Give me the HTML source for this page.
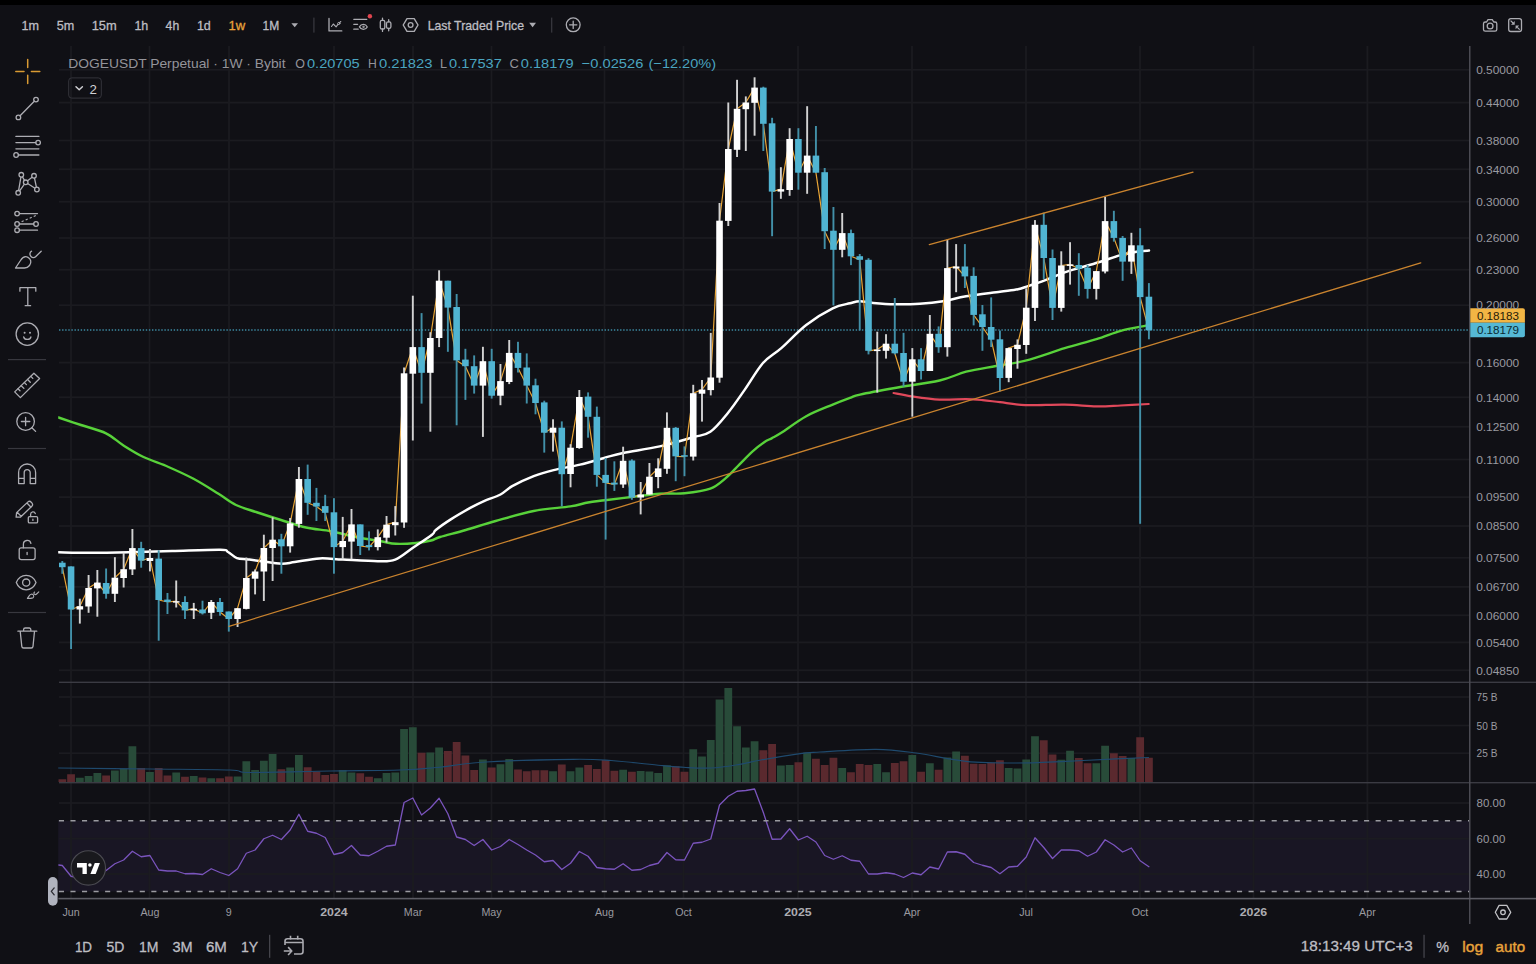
<!DOCTYPE html>
<html><head><meta charset="utf-8"><title>DOGEUSDT Perpetual 1W</title>
<style>
html,body{margin:0;padding:0;background:#101015;}
body{width:1536px;height:964px;overflow:hidden;position:relative;font-family:"Liberation Sans",sans-serif;}
svg{position:absolute;left:0;top:0;}
svg text{font-family:"Liberation Sans",sans-serif;}
#topstrip{position:absolute;left:0;top:0;width:1536px;height:4.6px;background:#000;}
</style></head><body>
<div id="topstrip"></div>
<svg id="chart" width="1536" height="964" viewBox="0 0 1536 964" style="position:absolute;left:0;top:0">
<defs><clipPath id="cp"><rect x="58.2" y="46" width="1411" height="852"/></clipPath></defs>
<rect x="58.2" y="820.7" width="1411" height="70.8" fill="#7e57c2" fill-opacity="0.09"/>
<rect x="59" y="68.9" width="1410.5" height="1.8" fill="#1b1b20"/>
<rect x="59" y="101.7" width="1410.5" height="1.8" fill="#1b1b20"/>
<rect x="59" y="139.6" width="1410.5" height="1.8" fill="#1b1b20"/>
<rect x="59" y="168.4" width="1410.5" height="1.8" fill="#1b1b20"/>
<rect x="59" y="200.8" width="1410.5" height="1.8" fill="#1b1b20"/>
<rect x="59" y="237.1" width="1410.5" height="1.8" fill="#1b1b20"/>
<rect x="59" y="268.8" width="1410.5" height="1.8" fill="#1b1b20"/>
<rect x="59" y="304.3" width="1410.5" height="1.8" fill="#1b1b20"/>
<rect x="59" y="361.7" width="1410.5" height="1.8" fill="#1b1b20"/>
<rect x="59" y="396.4" width="1410.5" height="1.8" fill="#1b1b20"/>
<rect x="59" y="425.8" width="1410.5" height="1.8" fill="#1b1b20"/>
<rect x="59" y="458.6" width="1410.5" height="1.8" fill="#1b1b20"/>
<rect x="59" y="496.2" width="1410.5" height="1.8" fill="#1b1b20"/>
<rect x="59" y="525.1" width="1410.5" height="1.8" fill="#1b1b20"/>
<rect x="59" y="556.9" width="1410.5" height="1.8" fill="#1b1b20"/>
<rect x="59" y="586" width="1410.5" height="1.8" fill="#1b1b20"/>
<rect x="59" y="614.4" width="1410.5" height="1.8" fill="#1b1b20"/>
<rect x="59" y="641.5" width="1410.5" height="1.8" fill="#1b1b20"/>
<rect x="59" y="669.4" width="1410.5" height="1.8" fill="#1b1b20"/>
<rect x="59" y="696.1" width="1410.5" height="1.8" fill="#1b1b20"/>
<rect x="59" y="724.6" width="1410.5" height="1.8" fill="#1b1b20"/>
<rect x="59" y="752.3" width="1410.5" height="1.8" fill="#1b1b20"/>
<rect x="59" y="802.1" width="1410.5" height="1.8" fill="#1b1b20"/>
<rect x="59" y="837.8" width="1410.5" height="1.8" fill="#1b1b20"/>
<rect x="59" y="873.1" width="1410.5" height="1.8" fill="#1b1b20"/>
<rect x="70.1" y="46" width="1.8" height="852" fill="#1b1b20"/>
<rect x="148.6" y="46" width="1.8" height="852" fill="#1b1b20"/>
<rect x="228.1" y="46" width="1.8" height="852" fill="#1b1b20"/>
<rect x="333.1" y="46" width="1.8" height="852" fill="#1b1b20"/>
<rect x="412.1" y="46" width="1.8" height="852" fill="#1b1b20"/>
<rect x="490.6" y="46" width="1.8" height="852" fill="#1b1b20"/>
<rect x="603.6" y="46" width="1.8" height="852" fill="#1b1b20"/>
<rect x="682.6" y="46" width="1.8" height="852" fill="#1b1b20"/>
<rect x="797.1" y="46" width="1.8" height="852" fill="#1b1b20"/>
<rect x="911.1" y="46" width="1.8" height="852" fill="#1b1b20"/>
<rect x="1025.1" y="46" width="1.8" height="852" fill="#1b1b20"/>
<rect x="1139.1" y="46" width="1.8" height="852" fill="#1b1b20"/>
<rect x="1252.6" y="46" width="1.8" height="852" fill="#1b1b20"/>
<rect x="1366.5" y="46" width="1.8" height="852" fill="#1b1b20"/>
<rect x="59" y="681.6" width="1477" height="1.4" fill="#3b3b43"/>
<rect x="59" y="782" width="1477" height="1.4" fill="#3b3b43"/>
<g clip-path="url(#cp)">
<rect x="58.4" y="779.25" width="7.8" height="2.75" fill="#5a292e"/>
<rect x="67.16" y="774.25" width="7.8" height="7.75" fill="#5a292e"/>
<rect x="75.93" y="777.75" width="7.8" height="4.25" fill="#284b39"/>
<rect x="84.69" y="776" width="7.8" height="6" fill="#284b39"/>
<rect x="93.45" y="773" width="7.8" height="9" fill="#284b39"/>
<rect x="102.21" y="775.5" width="7.8" height="6.5" fill="#5a292e"/>
<rect x="110.98" y="770.5" width="7.8" height="11.5" fill="#284b39"/>
<rect x="119.74" y="768.75" width="7.8" height="13.25" fill="#284b39"/>
<rect x="128.5" y="746.25" width="7.8" height="35.75" fill="#284b39"/>
<rect x="137.27" y="768" width="7.8" height="14" fill="#5a292e"/>
<rect x="146.03" y="772" width="7.8" height="10" fill="#284b39"/>
<rect x="154.79" y="768" width="7.8" height="14" fill="#5a292e"/>
<rect x="163.56" y="775.5" width="7.8" height="6.5" fill="#5a292e"/>
<rect x="172.32" y="772.5" width="7.8" height="9.5" fill="#284b39"/>
<rect x="181.08" y="776.75" width="7.8" height="5.25" fill="#5a292e"/>
<rect x="189.84" y="776" width="7.8" height="6" fill="#284b39"/>
<rect x="198.61" y="777.5" width="7.8" height="4.5" fill="#5a292e"/>
<rect x="207.37" y="778.25" width="7.8" height="3.75" fill="#284b39"/>
<rect x="216.13" y="778.25" width="7.8" height="3.75" fill="#5a292e"/>
<rect x="224.9" y="776.5" width="7.8" height="5.5" fill="#5a292e"/>
<rect x="233.66" y="776.5" width="7.8" height="5.5" fill="#284b39"/>
<rect x="242.42" y="761.25" width="7.8" height="20.75" fill="#284b39"/>
<rect x="251.19" y="770" width="7.8" height="12" fill="#284b39"/>
<rect x="259.95" y="760.75" width="7.8" height="21.25" fill="#284b39"/>
<rect x="268.71" y="754" width="7.8" height="28" fill="#284b39"/>
<rect x="277.48" y="769.25" width="7.8" height="12.75" fill="#5a292e"/>
<rect x="286.24" y="767.5" width="7.8" height="14.5" fill="#284b39"/>
<rect x="295" y="755" width="7.8" height="27" fill="#284b39"/>
<rect x="303.76" y="767.25" width="7.8" height="14.75" fill="#5a292e"/>
<rect x="312.53" y="771.5" width="7.8" height="10.5" fill="#5a292e"/>
<rect x="321.29" y="775" width="7.8" height="7" fill="#5a292e"/>
<rect x="330.05" y="774" width="7.8" height="8" fill="#5a292e"/>
<rect x="338.82" y="770" width="7.8" height="12" fill="#284b39"/>
<rect x="347.58" y="772.5" width="7.8" height="9.5" fill="#284b39"/>
<rect x="356.34" y="773.25" width="7.8" height="8.75" fill="#5a292e"/>
<rect x="365.11" y="776.75" width="7.8" height="5.25" fill="#5a292e"/>
<rect x="373.87" y="778.25" width="7.8" height="3.75" fill="#284b39"/>
<rect x="382.63" y="773" width="7.8" height="9" fill="#284b39"/>
<rect x="391.39" y="772.5" width="7.8" height="9.5" fill="#284b39"/>
<rect x="400.16" y="729" width="7.8" height="53" fill="#284b39"/>
<rect x="408.92" y="727.25" width="7.8" height="54.75" fill="#284b39"/>
<rect x="417.68" y="752.75" width="7.8" height="29.25" fill="#5a292e"/>
<rect x="426.45" y="752.5" width="7.8" height="29.5" fill="#284b39"/>
<rect x="435.21" y="747.5" width="7.8" height="34.5" fill="#284b39"/>
<rect x="443.97" y="751" width="7.8" height="31" fill="#5a292e"/>
<rect x="452.74" y="742" width="7.8" height="40" fill="#5a292e"/>
<rect x="461.5" y="755.5" width="7.8" height="26.5" fill="#5a292e"/>
<rect x="470.26" y="770" width="7.8" height="12" fill="#5a292e"/>
<rect x="479.02" y="759.5" width="7.8" height="22.5" fill="#284b39"/>
<rect x="487.79" y="767.5" width="7.8" height="14.5" fill="#5a292e"/>
<rect x="496.55" y="764.25" width="7.8" height="17.75" fill="#284b39"/>
<rect x="505.31" y="759" width="7.8" height="23" fill="#284b39"/>
<rect x="514.08" y="769.5" width="7.8" height="12.5" fill="#5a292e"/>
<rect x="522.84" y="771.25" width="7.8" height="10.75" fill="#5a292e"/>
<rect x="531.6" y="770.25" width="7.8" height="11.75" fill="#5a292e"/>
<rect x="540.37" y="770.25" width="7.8" height="11.75" fill="#5a292e"/>
<rect x="549.13" y="771.25" width="7.8" height="10.75" fill="#284b39"/>
<rect x="557.89" y="764.5" width="7.8" height="17.5" fill="#5a292e"/>
<rect x="566.65" y="771.25" width="7.8" height="10.75" fill="#284b39"/>
<rect x="575.42" y="767.5" width="7.8" height="14.5" fill="#284b39"/>
<rect x="584.18" y="765" width="7.8" height="17" fill="#5a292e"/>
<rect x="592.94" y="769" width="7.8" height="13" fill="#5a292e"/>
<rect x="601.71" y="760" width="7.8" height="22" fill="#5a292e"/>
<rect x="610.47" y="770.75" width="7.8" height="11.25" fill="#5a292e"/>
<rect x="619.23" y="769.75" width="7.8" height="12.25" fill="#284b39"/>
<rect x="628" y="771.75" width="7.8" height="10.25" fill="#5a292e"/>
<rect x="636.76" y="771" width="7.8" height="11" fill="#284b39"/>
<rect x="645.52" y="771.5" width="7.8" height="10.5" fill="#284b39"/>
<rect x="654.28" y="773" width="7.8" height="9" fill="#284b39"/>
<rect x="663.05" y="765.25" width="7.8" height="16.75" fill="#284b39"/>
<rect x="671.81" y="766.25" width="7.8" height="15.75" fill="#5a292e"/>
<rect x="680.57" y="771.75" width="7.8" height="10.25" fill="#5a292e"/>
<rect x="689.34" y="749.25" width="7.8" height="32.75" fill="#284b39"/>
<rect x="698.1" y="756.5" width="7.8" height="25.5" fill="#284b39"/>
<rect x="706.86" y="740" width="7.8" height="42" fill="#284b39"/>
<rect x="715.62" y="699.5" width="7.8" height="82.5" fill="#284b39"/>
<rect x="724.39" y="688" width="7.8" height="94" fill="#284b39"/>
<rect x="733.15" y="726.25" width="7.8" height="55.75" fill="#284b39"/>
<rect x="741.91" y="747.5" width="7.8" height="34.5" fill="#284b39"/>
<rect x="750.68" y="741.25" width="7.8" height="40.75" fill="#284b39"/>
<rect x="759.44" y="750.25" width="7.8" height="31.75" fill="#5a292e"/>
<rect x="768.2" y="744" width="7.8" height="38" fill="#5a292e"/>
<rect x="776.97" y="765.5" width="7.8" height="16.5" fill="#284b39"/>
<rect x="785.73" y="765" width="7.8" height="17" fill="#284b39"/>
<rect x="794.49" y="762.25" width="7.8" height="19.75" fill="#5a292e"/>
<rect x="803.25" y="752.5" width="7.8" height="29.5" fill="#284b39"/>
<rect x="812.02" y="758.75" width="7.8" height="23.25" fill="#5a292e"/>
<rect x="820.78" y="765" width="7.8" height="17" fill="#5a292e"/>
<rect x="829.54" y="757.75" width="7.8" height="24.25" fill="#5a292e"/>
<rect x="838.31" y="768" width="7.8" height="14" fill="#284b39"/>
<rect x="847.07" y="772.25" width="7.8" height="9.75" fill="#5a292e"/>
<rect x="855.83" y="764" width="7.8" height="18" fill="#5a292e"/>
<rect x="864.6" y="765" width="7.8" height="17" fill="#5a292e"/>
<rect x="873.36" y="764" width="7.8" height="18" fill="#284b39"/>
<rect x="882.12" y="772.25" width="7.8" height="9.75" fill="#284b39"/>
<rect x="890.88" y="763" width="7.8" height="19" fill="#5a292e"/>
<rect x="899.65" y="761.25" width="7.8" height="20.75" fill="#5a292e"/>
<rect x="908.41" y="755" width="7.8" height="27" fill="#284b39"/>
<rect x="917.17" y="771.75" width="7.8" height="10.25" fill="#5a292e"/>
<rect x="925.94" y="763.25" width="7.8" height="18.75" fill="#284b39"/>
<rect x="934.7" y="769.75" width="7.8" height="12.25" fill="#5a292e"/>
<rect x="943.46" y="757.5" width="7.8" height="24.5" fill="#284b39"/>
<rect x="952.23" y="751.5" width="7.8" height="30.5" fill="#284b39"/>
<rect x="960.99" y="755.75" width="7.8" height="26.25" fill="#5a292e"/>
<rect x="969.75" y="763.75" width="7.8" height="18.25" fill="#5a292e"/>
<rect x="978.51" y="764" width="7.8" height="18" fill="#5a292e"/>
<rect x="987.28" y="762.5" width="7.8" height="19.5" fill="#5a292e"/>
<rect x="996.04" y="760.25" width="7.8" height="21.75" fill="#5a292e"/>
<rect x="1004.8" y="768" width="7.8" height="14" fill="#284b39"/>
<rect x="1013.57" y="768.5" width="7.8" height="13.5" fill="#284b39"/>
<rect x="1022.33" y="759.5" width="7.8" height="22.5" fill="#284b39"/>
<rect x="1031.09" y="736.25" width="7.8" height="45.75" fill="#284b39"/>
<rect x="1039.86" y="740.25" width="7.8" height="41.75" fill="#5a292e"/>
<rect x="1048.62" y="754.5" width="7.8" height="27.5" fill="#5a292e"/>
<rect x="1057.38" y="759.75" width="7.8" height="22.25" fill="#284b39"/>
<rect x="1066.14" y="750.75" width="7.8" height="31.25" fill="#284b39"/>
<rect x="1074.91" y="758" width="7.8" height="24" fill="#5a292e"/>
<rect x="1083.67" y="763.25" width="7.8" height="18.75" fill="#5a292e"/>
<rect x="1092.43" y="763.25" width="7.8" height="18.75" fill="#284b39"/>
<rect x="1101.2" y="745.75" width="7.8" height="36.25" fill="#284b39"/>
<rect x="1109.96" y="753.25" width="7.8" height="28.75" fill="#5a292e"/>
<rect x="1118.72" y="756" width="7.8" height="26" fill="#5a292e"/>
<rect x="1127.49" y="758" width="7.8" height="24" fill="#284b39"/>
<rect x="1136.25" y="737.25" width="7.8" height="44.75" fill="#5a292e"/>
<rect x="1145.01" y="757.75" width="7.8" height="24.25" fill="#5a292e"/>
<path d="M58.5 768C73.75 768.17 121.42 768.67 150 769C178.58 769.33 213.33 769.42 230 770C246.67 770.58 233.33 772.33 250 772.5C266.67 772.67 305 771.42 330 771C355 770.58 382.33 770.58 400 770C417.67 769.42 421.67 768.83 436 767.5C450.33 766.17 463.08 763.37 486 762C508.92 760.63 552.67 759.55 573.5 759.3C594.33 759.05 596.42 759.47 611 760.5C625.58 761.53 648.5 764.33 661 765.5C673.5 766.67 677.67 767.08 686 767.5C694.33 767.92 702.67 768.42 711 768C719.33 767.58 727.67 766.33 736 765C744.33 763.67 750.58 761.87 761 760C771.42 758.13 788.67 755.13 798.5 753.8C808.33 752.47 807.08 752.75 820 752C832.92 751.25 860 749.13 876 749.3C892 749.47 901 751 916 753C931 755 949.33 759.63 966 761.3C982.67 762.97 999.33 763 1016 763C1032.67 763 1049.33 762 1066 761.3C1082.67 760.6 1102.25 759.43 1116 758.8C1129.75 758.17 1143.08 757.72 1148.5 757.5" fill="none" stroke="#1f4a6e" stroke-width="1.2" stroke-linejoin="round" stroke-linecap="round"/>
<line x1="59" y1="330" x2="1469" y2="330" stroke="#3d8ba3" stroke-width="1.3" stroke-dasharray="1.4 1.7"/>
<path d="M893.6 393C896.57 393.55 903.73 395.2 911.4 396.3C919.07 397.4 930.48 399.13 939.6 399.6C948.72 400.07 958.92 399.02 966.1 399.1C973.28 399.18 977.05 399.58 982.7 400.1C988.35 400.62 992.87 401.37 1000 402.2C1007.13 403.03 1014.72 404.7 1025.5 405.1C1036.28 405.5 1052.88 404.38 1064.7 404.6C1076.52 404.82 1087.07 406.25 1096.4 406.4C1105.73 406.55 1111.98 405.9 1120.7 405.5C1129.42 405.1 1144.03 404.25 1148.7 404" fill="none" stroke="#e0485a" stroke-width="2.2" stroke-linejoin="round" stroke-linecap="round"/>
<path d="M58.5 417.5C62.25 418.75 73.08 422.37 81 425C88.92 427.63 98.92 429.88 106 433.3C113.08 436.72 117.25 441.55 123.5 445.5C129.75 449.45 136 453.42 143.5 457C151 460.58 160.17 463.37 168.5 467C176.83 470.63 185.17 474.33 193.5 478.8C201.83 483.27 211.42 489.43 218.5 493.8C225.58 498.17 229.75 501.97 236 505C242.25 508.03 248.5 509.5 256 512C263.5 514.5 272.67 517.42 281 520C289.33 522.58 297.67 525.62 306 527.5C314.33 529.38 322.67 529.72 331 531.3C339.33 532.88 347.67 535.33 356 537C364.33 538.67 374.33 540.17 381 541.3C387.67 542.43 390.17 543.52 396 543.8C401.83 544.08 410.17 543.55 416 543C421.83 542.45 427 541.5 431 540.5C435 539.5 434.22 538.75 440 537C445.78 535.25 456.43 532.67 465.7 530C474.97 527.33 484.27 524.17 495.6 521C506.93 517.83 521.27 513.43 533.7 511C546.13 508.57 561.15 507.82 570.2 506.4C579.25 504.98 582.22 503.52 588 502.5C593.78 501.48 597.67 501.22 604.9 500.3C612.13 499.38 622.27 498.1 631.4 497C640.53 495.9 650.85 494.32 659.7 493.7C668.55 493.08 676.07 494.13 684.5 493.3C692.93 492.47 703.38 491.27 710.3 488.7C717.22 486.13 721.17 481.92 726 477.9C730.83 473.88 734.87 469.02 739.3 464.6C743.73 460.18 748.45 455.13 752.6 451.4C756.75 447.67 760.97 444.42 764.2 442.2C767.43 439.98 769.15 439.67 772 438.1C774.85 436.53 775.6 436.45 781.3 432.8C787 429.15 797.63 420.9 806.2 416.2C814.77 411.5 825.4 407.65 832.7 404.6C840 401.55 845.45 399.57 850 397.9C854.55 396.23 852.53 396.25 860 394.6C867.47 392.95 881.53 390.35 894.8 388C908.07 385.65 927.72 383.22 939.6 380.5C951.48 377.78 956.7 374.12 966.1 371.7C975.5 369.28 986.1 367.83 996 366C1005.9 364.17 1014.05 363.67 1025.5 360.7C1036.95 357.73 1052.88 351.78 1064.7 348.2C1076.52 344.62 1087.07 342.1 1096.4 339.2C1105.73 336.3 1112.45 333.07 1120.7 330.8C1128.95 328.53 1141.18 326.57 1145.9 325.6C1150.62 324.63 1148.48 325.1 1149 325" fill="none" stroke="#58d23a" stroke-width="2.4" stroke-linejoin="round" stroke-linecap="round"/>
<path d="M58.5 552.3C63.62 552.38 77.45 552.8 89.2 552.8C100.95 552.8 115.17 552.58 129 552.3C142.83 552.02 156.98 551.52 172.2 551.1C187.42 550.68 211 549.65 220.3 549.8C229.6 549.95 225.23 550.62 228 552C230.77 553.38 233.57 556.87 236.9 558.1C240.23 559.33 243.88 558.88 248 559.4C252.12 559.92 256.02 560.48 261.6 561.2C267.18 561.92 275.97 563.55 281.5 563.7C287.03 563.85 288.43 562.98 294.8 562.1C301.17 561.22 311.68 558.82 319.7 558.4C327.72 557.98 333.23 559.13 342.9 559.6C352.57 560.07 368.98 561.2 377.7 561.2C386.42 561.2 389.38 561.8 395.2 559.6C401.02 557.4 406.47 552.15 412.6 548C418.73 543.85 428.13 537.7 432 534.7C435.87 531.7 432.67 532.55 435.8 530C438.93 527.45 444.98 523.12 450.8 519.4C456.62 515.68 465.17 510.75 470.7 507.7C476.23 504.65 479.03 503.3 484 501.1C488.97 498.9 495.8 496.98 500.5 494.5C505.2 492.02 506.67 489.25 512.2 486.2C517.73 483.15 526.8 478.88 533.7 476.2C540.6 473.52 545.88 472.03 553.6 470.1C561.32 468.17 571.45 466.67 580 464.6C588.55 462.53 597.72 459.63 604.9 457.7C612.08 455.77 613.97 454.88 623.1 453C632.23 451.12 648.08 449.02 659.7 446.4C671.32 443.78 684.37 439.73 692.8 437.3C701.23 434.87 704.48 435.82 710.3 431.8C716.12 427.78 721.95 420.23 727.7 413.2C733.45 406.17 738.92 397.97 744.8 389.6C750.68 381.23 756.92 369.92 763 363C769.08 356.08 774.1 354.45 781.3 348.1C788.5 341.75 797.63 331.53 806.2 324.9C814.77 318.27 825.4 311.9 832.7 308.3C840 304.7 845.45 304.47 850 303.3C854.55 302.13 856.13 301.35 860 301.3C863.87 301.25 867.4 302.5 873.2 303C879 303.5 887.05 304.17 894.8 304.3C902.55 304.43 911.67 304.3 919.7 303.8C927.73 303.3 935.27 302.55 943 301.3C950.73 300.05 956.6 297.9 966.1 296.3C975.6 294.7 991.35 292.88 1000 291.7C1008.65 290.52 1013.45 290.08 1018 289.2C1022.55 288.32 1022.63 287.95 1027.3 286.4C1031.97 284.85 1039.77 282.23 1046 279.9C1052.23 277.57 1058.47 274.58 1064.7 272.4C1070.93 270.22 1077.18 268.67 1083.4 266.8C1089.62 264.93 1095.78 263.15 1102 261.2C1108.22 259.25 1114.47 256.75 1120.7 255.1C1126.93 253.45 1134.68 252.05 1139.4 251.3C1144.12 250.55 1147.4 250.72 1149 250.6" fill="none" stroke="#ffffff" stroke-width="2.5" stroke-linejoin="round" stroke-linecap="round"/>
<polyline points="62.3,567.2 71.06,609.5 79.83,606.2 88.59,588 97.35,582.6 106.11,593.8 114.88,577.7 123.64,569.2 132.4,548.1 141.17,560.6 149.93,558 158.69,600 167.46,602 176.22,601.2 184.98,610.4 193.75,608.7 202.51,613.3 211.27,602 220.03,612 228.8,619 237.56,608.2 246.32,578 255.09,571.5 263.85,548 272.61,539.7 281.38,546.3 290.14,523.4 298.9,479 307.66,502.8 316.43,506.5 325.19,512.8 333.95,547.1 342.72,541 351.48,524.4 360.24,546 369,547.1 377.77,537.2 386.53,524.7 395.29,522.2 404.06,373.3 412.82,347.1 421.58,372.8 430.35,338 439.11,280.7 447.87,307.6 456.63,360.4 465.4,366.2 474.16,385.6 482.92,361.2 491.69,395.7 500.45,381.1 509.21,352.9 517.98,367.9 526.74,385.6 535.5,403 544.26,432.7 553.03,427.7 561.79,474.2 570.55,447.7 579.32,397 588.08,416.8 596.84,474.9 605.61,482.9 614.37,484.5 623.13,460.8 631.89,497.5 640.66,494.5 649.42,476.7 658.18,468.4 666.95,427.8 675.71,456.3 684.47,456.7 693.24,393.2 702,389.6 710.76,377.5 719.52,220.7 728.29,149 737.05,108.8 745.81,102.5 754.58,87.6 763.34,123.8 772.1,191.6 780.87,189.2 789.63,139 798.39,172.7 807.15,155.6 815.92,172.7 824.68,231.2 833.44,249.8 842.21,233.1 850.97,256.3 859.73,259.8 868.5,350.8 877.26,349.6 886.02,343.7 894.78,353.3 903.55,381.7 912.31,359.3 921.07,371 929.84,333.8 938.6,347.2 947.36,268.1 956.13,266.5 964.89,276.4 973.65,314.9 982.41,327 991.18,339.7 999.94,378 1008.7,348.1 1017.47,344.8 1026.23,307.7 1034.99,224.8 1043.76,258 1052.52,307.9 1061.28,265.5 1070.05,264.4 1078.81,268.7 1087.57,288.9 1096.33,271.1 1105.1,221.1 1113.86,237.9 1122.62,261.6 1131.39,245.3 1140.15,297.1 1148.91,330.3" fill="none" stroke="#e9a536" stroke-width="1.2" stroke-linejoin="round" stroke-linecap="round" />
<rect x="61.35" y="561" width="1.9" height="12.8" fill="#4290a8"/>
<rect x="59" y="562.7" width="6.6" height="4.5" fill="#50b4d2"/>
<rect x="70.11" y="566.4" width="1.9" height="82.6" fill="#4290a8"/>
<rect x="67.76" y="566.4" width="6.6" height="43.1" fill="#50b4d2"/>
<rect x="78.88" y="598.7" width="1.9" height="24.9" fill="#d2d2d2"/>
<rect x="76.53" y="606.2" width="6.6" height="3.3" fill="#ffffff"/>
<rect x="87.64" y="575" width="1.9" height="37.8" fill="#d2d2d2"/>
<rect x="85.29" y="588" width="6.6" height="18.5" fill="#ffffff"/>
<rect x="96.4" y="570" width="1.9" height="46.7" fill="#d2d2d2"/>
<rect x="94.05" y="582.6" width="6.6" height="5.8" fill="#ffffff"/>
<rect x="105.16" y="568.5" width="1.9" height="30.2" fill="#4290a8"/>
<rect x="102.81" y="583" width="6.6" height="10.8" fill="#50b4d2"/>
<rect x="113.93" y="557.2" width="1.9" height="44.8" fill="#d2d2d2"/>
<rect x="111.58" y="577.7" width="6.6" height="16.1" fill="#ffffff"/>
<rect x="122.69" y="552.8" width="1.9" height="34.7" fill="#d2d2d2"/>
<rect x="120.34" y="569.2" width="6.6" height="8.8" fill="#ffffff"/>
<rect x="131.45" y="529" width="1.9" height="46" fill="#d2d2d2"/>
<rect x="129.1" y="548.1" width="6.6" height="21.3" fill="#ffffff"/>
<rect x="140.22" y="541.8" width="1.9" height="25.9" fill="#4290a8"/>
<rect x="137.87" y="548.1" width="6.6" height="12.5" fill="#50b4d2"/>
<rect x="148.98" y="549" width="1.9" height="22.4" fill="#d2d2d2"/>
<rect x="146.63" y="558" width="6.6" height="3" fill="#ffffff"/>
<rect x="157.74" y="550.3" width="1.9" height="90.4" fill="#4290a8"/>
<rect x="155.39" y="558.6" width="6.6" height="41.4" fill="#50b4d2"/>
<rect x="166.51" y="593" width="1.9" height="21" fill="#4290a8"/>
<rect x="164.16" y="599.6" width="6.6" height="2.4" fill="#50b4d2"/>
<rect x="175.27" y="580.5" width="1.9" height="27" fill="#d2d2d2"/>
<rect x="172.92" y="601.2" width="6.6" height="1.4" fill="#ffffff"/>
<rect x="184.03" y="596.2" width="1.9" height="22.8" fill="#4290a8"/>
<rect x="181.68" y="602" width="6.6" height="8.4" fill="#50b4d2"/>
<rect x="192.8" y="602.9" width="1.9" height="16.1" fill="#d2d2d2"/>
<rect x="190.44" y="608.7" width="6.6" height="1.7" fill="#ffffff"/>
<rect x="201.56" y="600.7" width="1.9" height="13.8" fill="#4290a8"/>
<rect x="199.21" y="609.5" width="6.6" height="3.8" fill="#50b4d2"/>
<rect x="210.32" y="600" width="1.9" height="19" fill="#d2d2d2"/>
<rect x="207.97" y="602" width="6.6" height="10.8" fill="#ffffff"/>
<rect x="219.08" y="598" width="1.9" height="17.7" fill="#4290a8"/>
<rect x="216.73" y="602" width="6.6" height="10" fill="#50b4d2"/>
<rect x="227.85" y="611.5" width="1.9" height="20.1" fill="#4290a8"/>
<rect x="225.5" y="611.5" width="6.6" height="7.5" fill="#50b4d2"/>
<rect x="236.61" y="608.2" width="1.9" height="18.8" fill="#d2d2d2"/>
<rect x="234.26" y="608.2" width="6.6" height="10.8" fill="#ffffff"/>
<rect x="245.37" y="557.5" width="1.9" height="51.9" fill="#d2d2d2"/>
<rect x="243.02" y="578" width="6.6" height="30.9" fill="#ffffff"/>
<rect x="254.14" y="569.5" width="1.9" height="24.9" fill="#d2d2d2"/>
<rect x="251.79" y="571.5" width="6.6" height="7.2" fill="#ffffff"/>
<rect x="262.9" y="534.7" width="1.9" height="66.3" fill="#d2d2d2"/>
<rect x="260.55" y="548" width="6.6" height="23.5" fill="#ffffff"/>
<rect x="271.66" y="517.3" width="1.9" height="63.7" fill="#d2d2d2"/>
<rect x="269.31" y="539.7" width="6.6" height="8.3" fill="#ffffff"/>
<rect x="280.43" y="533.8" width="1.9" height="39.9" fill="#4290a8"/>
<rect x="278.07" y="539.3" width="6.6" height="7" fill="#50b4d2"/>
<rect x="289.19" y="518" width="1.9" height="34.6" fill="#d2d2d2"/>
<rect x="286.84" y="523.4" width="6.6" height="22.9" fill="#ffffff"/>
<rect x="297.95" y="467" width="1.9" height="60.7" fill="#d2d2d2"/>
<rect x="295.6" y="479" width="6.6" height="44.9" fill="#ffffff"/>
<rect x="306.71" y="464.6" width="1.9" height="50.2" fill="#4290a8"/>
<rect x="304.36" y="479" width="6.6" height="23.8" fill="#50b4d2"/>
<rect x="315.48" y="487.9" width="1.9" height="33.1" fill="#4290a8"/>
<rect x="313.13" y="502.8" width="6.6" height="3.7" fill="#50b4d2"/>
<rect x="324.24" y="494.8" width="1.9" height="26.2" fill="#4290a8"/>
<rect x="321.89" y="506.1" width="6.6" height="6.7" fill="#50b4d2"/>
<rect x="333" y="498.2" width="1.9" height="75.5" fill="#4290a8"/>
<rect x="330.65" y="512.3" width="6.6" height="34.8" fill="#50b4d2"/>
<rect x="341.77" y="516.9" width="1.9" height="42.3" fill="#d2d2d2"/>
<rect x="339.42" y="541" width="6.6" height="6.1" fill="#ffffff"/>
<rect x="350.53" y="509" width="1.9" height="50.2" fill="#d2d2d2"/>
<rect x="348.18" y="524.4" width="6.6" height="17.2" fill="#ffffff"/>
<rect x="359.29" y="524.4" width="1.9" height="30.6" fill="#4290a8"/>
<rect x="356.94" y="524.4" width="6.6" height="21.6" fill="#50b4d2"/>
<rect x="368.06" y="531.4" width="1.9" height="19" fill="#4290a8"/>
<rect x="365.7" y="545.1" width="6.6" height="2" fill="#50b4d2"/>
<rect x="376.82" y="529.4" width="1.9" height="21" fill="#d2d2d2"/>
<rect x="374.47" y="537.2" width="6.6" height="9.9" fill="#ffffff"/>
<rect x="385.58" y="516" width="1.9" height="26.6" fill="#d2d2d2"/>
<rect x="383.23" y="524.7" width="6.6" height="13" fill="#ffffff"/>
<rect x="394.34" y="506.1" width="1.9" height="29.4" fill="#d2d2d2"/>
<rect x="391.99" y="522.2" width="6.6" height="3" fill="#ffffff"/>
<rect x="403.11" y="367.5" width="1.9" height="160.3" fill="#d2d2d2"/>
<rect x="400.76" y="373.3" width="6.6" height="149.2" fill="#ffffff"/>
<rect x="411.87" y="295.7" width="1.9" height="144.8" fill="#d2d2d2"/>
<rect x="409.52" y="347.1" width="6.6" height="26.6" fill="#ffffff"/>
<rect x="420.63" y="313.1" width="1.9" height="90.5" fill="#4290a8"/>
<rect x="418.28" y="347.1" width="6.6" height="25.7" fill="#50b4d2"/>
<rect x="429.4" y="332.2" width="1.9" height="99.5" fill="#d2d2d2"/>
<rect x="427.05" y="338" width="6.6" height="34.8" fill="#ffffff"/>
<rect x="438.16" y="270.3" width="1.9" height="76.8" fill="#d2d2d2"/>
<rect x="435.81" y="280.7" width="6.6" height="57.3" fill="#ffffff"/>
<rect x="446.92" y="280.7" width="1.9" height="71.1" fill="#4290a8"/>
<rect x="444.57" y="280.7" width="6.6" height="26.9" fill="#50b4d2"/>
<rect x="455.69" y="294" width="1.9" height="131.3" fill="#4290a8"/>
<rect x="453.33" y="307" width="6.6" height="53.4" fill="#50b4d2"/>
<rect x="464.45" y="348.8" width="1.9" height="51.1" fill="#4290a8"/>
<rect x="462.1" y="359.6" width="6.6" height="6.6" fill="#50b4d2"/>
<rect x="473.21" y="355.4" width="1.9" height="38.2" fill="#4290a8"/>
<rect x="470.86" y="366.2" width="6.6" height="19.4" fill="#50b4d2"/>
<rect x="481.97" y="346.8" width="1.9" height="90.1" fill="#d2d2d2"/>
<rect x="479.62" y="361.2" width="6.6" height="24.4" fill="#ffffff"/>
<rect x="490.74" y="348.8" width="1.9" height="49.8" fill="#4290a8"/>
<rect x="488.39" y="361.2" width="6.6" height="34.5" fill="#50b4d2"/>
<rect x="499.5" y="364" width="1.9" height="41.2" fill="#d2d2d2"/>
<rect x="497.15" y="381.1" width="6.6" height="14.6" fill="#ffffff"/>
<rect x="508.26" y="340" width="1.9" height="44.1" fill="#d2d2d2"/>
<rect x="505.91" y="352.9" width="6.6" height="29.1" fill="#ffffff"/>
<rect x="517.03" y="341.8" width="1.9" height="30.7" fill="#4290a8"/>
<rect x="514.68" y="352.9" width="6.6" height="15" fill="#50b4d2"/>
<rect x="525.79" y="353.4" width="1.9" height="50.1" fill="#4290a8"/>
<rect x="523.44" y="367.5" width="6.6" height="18.1" fill="#50b4d2"/>
<rect x="534.55" y="378.7" width="1.9" height="35.6" fill="#4290a8"/>
<rect x="532.2" y="385.3" width="6.6" height="17.7" fill="#50b4d2"/>
<rect x="543.31" y="400.7" width="1.9" height="51.9" fill="#4290a8"/>
<rect x="540.97" y="402.4" width="6.6" height="30.3" fill="#50b4d2"/>
<rect x="552.08" y="419.3" width="1.9" height="32.3" fill="#d2d2d2"/>
<rect x="549.73" y="427.7" width="6.6" height="5" fill="#ffffff"/>
<rect x="560.84" y="421.4" width="1.9" height="85" fill="#4290a8"/>
<rect x="558.49" y="427.7" width="6.6" height="46.5" fill="#50b4d2"/>
<rect x="569.6" y="444.2" width="1.9" height="43.1" fill="#d2d2d2"/>
<rect x="567.25" y="447.7" width="6.6" height="26.3" fill="#ffffff"/>
<rect x="578.37" y="390" width="1.9" height="58.8" fill="#d2d2d2"/>
<rect x="576.02" y="397" width="6.6" height="51" fill="#ffffff"/>
<rect x="587.13" y="392.4" width="1.9" height="45.3" fill="#4290a8"/>
<rect x="584.78" y="396.6" width="6.6" height="20.2" fill="#50b4d2"/>
<rect x="595.89" y="406.6" width="1.9" height="80.1" fill="#4290a8"/>
<rect x="593.54" y="416.8" width="6.6" height="58.1" fill="#50b4d2"/>
<rect x="604.66" y="458" width="1.9" height="81.6" fill="#4290a8"/>
<rect x="602.31" y="474.9" width="6.6" height="8" fill="#50b4d2"/>
<rect x="613.42" y="461.3" width="1.9" height="29.6" fill="#4290a8"/>
<rect x="611.07" y="482.6" width="6.6" height="1.9" fill="#50b4d2"/>
<rect x="622.18" y="446.7" width="1.9" height="41.2" fill="#d2d2d2"/>
<rect x="619.83" y="460.8" width="6.6" height="23.7" fill="#ffffff"/>
<rect x="630.94" y="459.3" width="1.9" height="40.5" fill="#4290a8"/>
<rect x="628.6" y="460.5" width="6.6" height="37" fill="#50b4d2"/>
<rect x="639.71" y="482" width="1.9" height="32.4" fill="#d2d2d2"/>
<rect x="637.36" y="494.5" width="6.6" height="3" fill="#ffffff"/>
<rect x="648.47" y="463" width="1.9" height="31.5" fill="#d2d2d2"/>
<rect x="646.12" y="476.7" width="6.6" height="17.8" fill="#ffffff"/>
<rect x="657.23" y="458.3" width="1.9" height="29.9" fill="#d2d2d2"/>
<rect x="654.88" y="468.4" width="6.6" height="8.6" fill="#ffffff"/>
<rect x="666" y="412.4" width="1.9" height="61.4" fill="#d2d2d2"/>
<rect x="663.65" y="427.8" width="6.6" height="41" fill="#ffffff"/>
<rect x="674.76" y="427" width="1.9" height="54.2" fill="#4290a8"/>
<rect x="672.41" y="427.8" width="6.6" height="28.5" fill="#50b4d2"/>
<rect x="683.52" y="446.4" width="1.9" height="29.8" fill="#4290a8"/>
<rect x="681.17" y="455.2" width="6.6" height="1.5" fill="#50b4d2"/>
<rect x="692.29" y="384.8" width="1.9" height="75.7" fill="#d2d2d2"/>
<rect x="689.94" y="393.2" width="6.6" height="63.4" fill="#ffffff"/>
<rect x="701.05" y="380" width="1.9" height="41.6" fill="#d2d2d2"/>
<rect x="698.7" y="389.6" width="6.6" height="4.1" fill="#ffffff"/>
<rect x="709.81" y="332.9" width="1.9" height="62.5" fill="#d2d2d2"/>
<rect x="707.46" y="377.5" width="6.6" height="12.6" fill="#ffffff"/>
<rect x="718.57" y="203" width="1.9" height="179.7" fill="#d2d2d2"/>
<rect x="716.23" y="220.7" width="6.6" height="157" fill="#ffffff"/>
<rect x="727.34" y="102.5" width="1.9" height="123.5" fill="#d2d2d2"/>
<rect x="724.99" y="149" width="6.6" height="71.9" fill="#ffffff"/>
<rect x="736.1" y="79.8" width="1.9" height="77.2" fill="#d2d2d2"/>
<rect x="733.75" y="108.8" width="6.6" height="41" fill="#ffffff"/>
<rect x="744.86" y="96.4" width="1.9" height="54.6" fill="#d2d2d2"/>
<rect x="742.51" y="102.5" width="6.6" height="6.7" fill="#ffffff"/>
<rect x="753.63" y="77.3" width="1.9" height="58.4" fill="#d2d2d2"/>
<rect x="751.28" y="87.6" width="6.6" height="15.2" fill="#ffffff"/>
<rect x="762.39" y="86.7" width="1.9" height="64.3" fill="#4290a8"/>
<rect x="760.04" y="87.6" width="6.6" height="36.2" fill="#50b4d2"/>
<rect x="771.15" y="117.8" width="1.9" height="118.4" fill="#4290a8"/>
<rect x="768.8" y="123.3" width="6.6" height="68.3" fill="#50b4d2"/>
<rect x="779.92" y="167.2" width="1.9" height="31.6" fill="#d2d2d2"/>
<rect x="777.57" y="189.2" width="6.6" height="2.4" fill="#ffffff"/>
<rect x="788.68" y="128.2" width="1.9" height="67.6" fill="#d2d2d2"/>
<rect x="786.33" y="139" width="6.6" height="51" fill="#ffffff"/>
<rect x="797.44" y="128.2" width="1.9" height="61.5" fill="#4290a8"/>
<rect x="795.09" y="139" width="6.6" height="33.7" fill="#50b4d2"/>
<rect x="806.2" y="106.2" width="1.9" height="87.6" fill="#d2d2d2"/>
<rect x="803.86" y="155.6" width="6.6" height="17.1" fill="#ffffff"/>
<rect x="814.97" y="126" width="1.9" height="46.7" fill="#4290a8"/>
<rect x="812.62" y="155.6" width="6.6" height="17.1" fill="#50b4d2"/>
<rect x="823.73" y="168" width="1.9" height="81" fill="#4290a8"/>
<rect x="821.38" y="172.2" width="6.6" height="59" fill="#50b4d2"/>
<rect x="832.49" y="207" width="1.9" height="98.4" fill="#4290a8"/>
<rect x="830.14" y="230.7" width="6.6" height="19.1" fill="#50b4d2"/>
<rect x="841.26" y="213" width="1.9" height="44.3" fill="#d2d2d2"/>
<rect x="838.91" y="233.1" width="6.6" height="16.7" fill="#ffffff"/>
<rect x="850.02" y="229.6" width="1.9" height="35.5" fill="#4290a8"/>
<rect x="847.67" y="233.1" width="6.6" height="23.2" fill="#50b4d2"/>
<rect x="858.78" y="254" width="1.9" height="76.4" fill="#4290a8"/>
<rect x="856.43" y="256.2" width="6.6" height="3.6" fill="#50b4d2"/>
<rect x="867.55" y="258.2" width="1.9" height="96.2" fill="#4290a8"/>
<rect x="865.2" y="259.8" width="6.6" height="91" fill="#50b4d2"/>
<rect x="876.31" y="331.7" width="1.9" height="60.9" fill="#d2d2d2"/>
<rect x="873.96" y="349.6" width="6.6" height="1.5" fill="#ffffff"/>
<rect x="885.07" y="334.2" width="1.9" height="24.4" fill="#d2d2d2"/>
<rect x="882.72" y="343.7" width="6.6" height="7.1" fill="#ffffff"/>
<rect x="893.83" y="298" width="1.9" height="56.4" fill="#4290a8"/>
<rect x="891.49" y="343.7" width="6.6" height="9.6" fill="#50b4d2"/>
<rect x="902.6" y="332.8" width="1.9" height="53.8" fill="#4290a8"/>
<rect x="900.25" y="353" width="6.6" height="28.7" fill="#50b4d2"/>
<rect x="911.36" y="348.1" width="1.9" height="68.6" fill="#d2d2d2"/>
<rect x="909.01" y="359.3" width="6.6" height="22.4" fill="#ffffff"/>
<rect x="920.12" y="348.1" width="1.9" height="31.4" fill="#4290a8"/>
<rect x="917.77" y="359.3" width="6.6" height="11.7" fill="#50b4d2"/>
<rect x="928.89" y="315" width="1.9" height="56" fill="#d2d2d2"/>
<rect x="926.54" y="333.8" width="6.6" height="37.2" fill="#ffffff"/>
<rect x="937.65" y="326.4" width="1.9" height="26.4" fill="#4290a8"/>
<rect x="935.3" y="333.8" width="6.6" height="13.4" fill="#50b4d2"/>
<rect x="946.41" y="239.6" width="1.9" height="117" fill="#d2d2d2"/>
<rect x="944.06" y="268.1" width="6.6" height="79.1" fill="#ffffff"/>
<rect x="955.18" y="244.1" width="1.9" height="48.1" fill="#d2d2d2"/>
<rect x="952.83" y="266.5" width="6.6" height="2" fill="#ffffff"/>
<rect x="963.94" y="244.1" width="1.9" height="43.9" fill="#4290a8"/>
<rect x="961.59" y="266.5" width="6.6" height="9.9" fill="#50b4d2"/>
<rect x="972.7" y="267.3" width="1.9" height="58.1" fill="#4290a8"/>
<rect x="970.35" y="275.9" width="6.6" height="39" fill="#50b4d2"/>
<rect x="981.46" y="305" width="1.9" height="45.8" fill="#4290a8"/>
<rect x="979.12" y="314.3" width="6.6" height="12.7" fill="#50b4d2"/>
<rect x="990.23" y="297.4" width="1.9" height="49.6" fill="#4290a8"/>
<rect x="987.88" y="327" width="6.6" height="12.7" fill="#50b4d2"/>
<rect x="998.99" y="330.5" width="1.9" height="61" fill="#4290a8"/>
<rect x="996.64" y="339.3" width="6.6" height="38.7" fill="#50b4d2"/>
<rect x="1007.75" y="347.6" width="1.9" height="34.6" fill="#d2d2d2"/>
<rect x="1005.4" y="348.1" width="6.6" height="29.8" fill="#ffffff"/>
<rect x="1016.52" y="339.4" width="1.9" height="29.3" fill="#d2d2d2"/>
<rect x="1014.17" y="344.8" width="6.6" height="4.2" fill="#ffffff"/>
<rect x="1025.28" y="288.3" width="1.9" height="65.5" fill="#d2d2d2"/>
<rect x="1022.93" y="307.7" width="6.6" height="37.3" fill="#ffffff"/>
<rect x="1034.04" y="220.1" width="1.9" height="100.9" fill="#d2d2d2"/>
<rect x="1031.69" y="224.8" width="6.6" height="83.1" fill="#ffffff"/>
<rect x="1042.81" y="212.7" width="1.9" height="66.3" fill="#4290a8"/>
<rect x="1040.46" y="224.8" width="6.6" height="33.2" fill="#50b4d2"/>
<rect x="1051.57" y="249.5" width="1.9" height="70.5" fill="#4290a8"/>
<rect x="1049.22" y="258" width="6.6" height="49.9" fill="#50b4d2"/>
<rect x="1060.33" y="251.3" width="1.9" height="60.3" fill="#d2d2d2"/>
<rect x="1057.98" y="265.5" width="6.6" height="42.4" fill="#ffffff"/>
<rect x="1069.1" y="242.2" width="1.9" height="42.4" fill="#d2d2d2"/>
<rect x="1066.75" y="264.4" width="6.6" height="1.5" fill="#ffffff"/>
<rect x="1077.86" y="253.2" width="1.9" height="42.6" fill="#4290a8"/>
<rect x="1075.51" y="265" width="6.6" height="3.7" fill="#50b4d2"/>
<rect x="1086.62" y="265" width="1.9" height="33.6" fill="#4290a8"/>
<rect x="1084.27" y="267.8" width="6.6" height="21.1" fill="#50b4d2"/>
<rect x="1095.38" y="271.1" width="1.9" height="28.4" fill="#d2d2d2"/>
<rect x="1093.03" y="271.1" width="6.6" height="17.8" fill="#ffffff"/>
<rect x="1104.15" y="196.8" width="1.9" height="76.6" fill="#d2d2d2"/>
<rect x="1101.8" y="221.1" width="6.6" height="50.4" fill="#ffffff"/>
<rect x="1112.91" y="210.8" width="1.9" height="30.8" fill="#4290a8"/>
<rect x="1110.56" y="221.1" width="6.6" height="16.8" fill="#50b4d2"/>
<rect x="1121.67" y="236" width="1.9" height="44.8" fill="#4290a8"/>
<rect x="1119.32" y="237.9" width="6.6" height="23.7" fill="#50b4d2"/>
<rect x="1130.44" y="232.8" width="1.9" height="41.1" fill="#d2d2d2"/>
<rect x="1128.09" y="245.3" width="6.6" height="16.3" fill="#ffffff"/>
<rect x="1139.2" y="228.2" width="1.9" height="295.6" fill="#4290a8"/>
<rect x="1136.85" y="245.3" width="6.6" height="51.8" fill="#50b4d2"/>
<rect x="1147.96" y="283.1" width="1.9" height="56.2" fill="#4290a8"/>
<rect x="1145.61" y="296.7" width="6.6" height="33.6" fill="#50b4d2"/>
<polyline points="229,626.3 1420.7,262.8" fill="none" stroke="#c9832e" stroke-width="1.3" stroke-linejoin="round" stroke-linecap="round" />
<polyline points="929.3,244.6 1193,172.1" fill="none" stroke="#c9832e" stroke-width="1.3" stroke-linejoin="round" stroke-linecap="round" />
<polyline points="58.7,865 62.3,865.5 71.06,876.25 79.83,878 88.59,877.5 97.35,875 106.11,870.5 114.88,863.75 123.64,860 132.4,851.25 141.17,856.75 149.93,855.5 158.69,870 167.46,871 176.22,871 184.98,873.75 193.75,873.5 202.51,874.5 211.27,868.75 220.03,872.5 228.8,875.5 237.56,868.75 246.32,853.25 255.09,850 263.85,838.75 272.61,835.25 281.38,839.5 290.14,830 298.9,814.25 307.66,831.25 316.43,833.25 325.19,837.5 333.95,854.5 342.72,852.5 351.48,845.5 360.24,855 369,855.75 377.77,851.25 386.53,846.25 395.29,845 404.06,802.5 412.82,798 421.58,815 430.35,808 439.11,798.25 447.87,813.75 456.63,837 465.4,839.5 474.16,845.5 482.92,839.5 491.69,850 500.45,846.5 509.21,839.5 517.98,844.5 526.74,850 535.5,855 544.26,861.75 553.03,860.5 561.79,869.5 570.55,863.25 579.32,851.5 588.08,856.25 596.84,867.5 605.61,868.75 614.37,869.25 623.13,863.75 631.89,870.25 640.66,869.5 649.42,865.5 658.18,863.25 666.95,852.5 675.71,859.75 684.47,860 693.24,843.25 702,842.25 710.76,839 719.52,805 728.29,796.25 737.05,791.25 745.81,790.5 754.58,789 763.34,812.5 772.1,839.25 780.87,839 789.63,828.75 798.39,840 807.15,836.25 815.92,842 824.68,855.5 833.44,859.25 842.21,855.75 850.97,860.25 859.73,861.25 868.5,874 877.26,874 886.02,872.75 894.78,874 903.55,877.5 912.31,873 921.07,874.75 929.84,867 938.6,869 947.36,852 956.13,851.75 964.89,854.25 973.65,862.5 982.41,865.25 991.18,867.5 999.94,873.75 1008.7,867 1017.47,866.25 1026.23,857 1034.99,837.75 1043.76,847.5 1052.52,858.5 1061.28,850 1070.05,850 1078.81,850.75 1087.57,856.25 1096.33,852 1105.1,839.75 1113.86,845 1122.62,852 1131.39,848 1140.15,860.75 1148.91,866.75" fill="none" stroke="#7a54bd" stroke-width="1.3" stroke-linejoin="round" stroke-linecap="round" />
</g>
<line x1="58.9" y1="820.7" x2="1469" y2="820.7" stroke="#9a9aa0" stroke-width="1.5" stroke-dasharray="5.1 6.45"/>
<line x1="58.9" y1="891.5" x2="1469" y2="891.5" stroke="#9a9aa0" stroke-width="1.5" stroke-dasharray="5.1 6.45"/>
<rect x="1469" y="46" width="1.5" height="878" fill="#4b4b53"/>
<rect x="58.4" y="897.8" width="1477.6" height="1.6" fill="#5c5c64"/>
</svg>
<svg id="ui" width="1536" height="964" viewBox="0 0 1536 964">
<g stroke="#d99a33" stroke-width="1.5" stroke-linecap="round" fill="none"><path d="M27.7 59.4V67.6M27.7 75.2V83.4M15.8 71.6H24M31.4 71.6H39.8"/></g>
<g stroke="#adadb3" stroke-width="1.3" fill="none" stroke-linecap="round" stroke-linejoin="round">
<circle cx="18.4" cy="117.4" r="2.3"/><circle cx="36" cy="99.6" r="2.3"/><path d="M20.1 115.7L34.3 101.3"/>
<path d="M15.9 136.4H38.9M15.9 142.6H35.8M15.9 148.8H38.9M18.4 155H38.9"/><circle cx="38.1" cy="142.6" r="2.3"/><circle cx="16.1" cy="155" r="2.3"/>
<path d="M21.3 174.8L18.2 192.8L25.7 182.3L21.3 174.8M25.7 182.3L34 175.8L36.9 189.5L25.7 182.3"/>
<g fill="#101015"><circle cx="21.3" cy="174.8" r="2.3"/><circle cx="34" cy="175.8" r="2.3"/><circle cx="25.7" cy="182.3" r="2.3"/><circle cx="36.9" cy="189.5" r="2.3"/><circle cx="18.2" cy="192.8" r="2.3"/></g>
<path d="M19.4 213.6H37.5M19.4 224H33.7M19.4 230.2H37.5"/><circle cx="17.1" cy="213.6" r="2.3"/><circle cx="17.1" cy="224" r="2.3"/><circle cx="36" cy="224" r="2.3"/><circle cx="17.1" cy="230.2" r="2.3"/>
<path d="M22.1 221.5L35.4 215.7" stroke-dasharray="1.2 3.2"/>
<path d="M15.5 268L20.5 260.5C22.5 257.2 25.5 256 28 257.3C31 258.8 31.8 262.5 29.5 265.5C28 267.4 26.5 268 24.5 268Z"/><path d="M31.6 251.2C29.6 252.2 29.4 254.8 31 256.5C32.4 258 34.3 258 35.6 256.7L41.2 251.2"/>
<path d="M19.9 291.2V287.7H35.8V291.2M27.8 287.7V305.7M25.2 305.7H30.6"/>
<circle cx="27.3" cy="334.1" r="11.2"/><path d="M23.7 337C24.4 340.2 30.2 340.2 30.9 337"/>
<circle cx="24.6" cy="332.7" r="1" fill="#adadb3" stroke="none"/><circle cx="30" cy="332.7" r="1" fill="#adadb3" stroke="none"/>
<path d="M14.7 391.9L33.9 373.3L39.6 378.5L20.4 397.6Z"/><path d="M18 388.8L20 390.8M21.2 385.7L23.9 388.4M24.4 382.6L26.4 384.6M27.6 379.5L30.3 382.2M30.8 376.4L32.8 378.4"/>
<circle cx="25.6" cy="421.5" r="8.8"/><path d="M25.6 417.3V425.7M21.4 421.5H29.8M31.9 427.7L35.6 431.4"/>
<path d="M18.6 483.6V472.5A8.5 8.5 0 0 1 35.6 472.5V483.6H30.2V472.6A3 3 0 0 0 24.2 472.6V483.6ZM18.6 478.4H24.2M30.2 478.4H35.6"/>
<path d="M16.1 517.2L16.6 512.6L28 501.9C29 501 30.3 501.2 31.2 502.2L32 503.2C32.8 504.2 32.7 505.4 31.8 506.3L20.6 517Z M17.2 512.2L21.2 516.4M27 503L31 507.2"/>
<rect x="28.3" y="516.6" width="9.3" height="6.3" rx="1.2"/><path d="M30.6 516.6V514.2A2.4 2.4 0 0 1 35.3 513.6M32.9 519.2V520.4"/>
<rect x="19.2" y="547.8" width="15.9" height="11.8" rx="2"/><path d="M23.4 547.8V544.2A3.8 3.8 0 0 1 30.9 543.4M27.1 552.3V554.6" />
<path d="M16.3 582.6C20 573 32.3 573 36 582.6C32.3 592.2 20 592.2 16.3 582.6Z"/><circle cx="26.2" cy="582.6" r="3.6"/>
<path d="M27.4 598.4L29.5 595.4C30.5 594 32 593.8 33 594.6C34 595.5 34 597 33 597.8C32.3 598.3 31.5 598.4 30.6 598.4ZM34.6 592C33.6 592.6 33.8 593.8 34.6 594.3C35.3 594.8 36 594.6 36.6 594L38.8 591.8" stroke-width="1.1"/>
<path d="M17.9 631.2H36.8M23.6 631.2V629.6A1.6 1.6 0 0 1 25.2 628H29.2A1.6 1.6 0 0 1 30.8 629.6V631.2M20.2 631.2L21.8 646.4A1.8 1.8 0 0 0 23.6 648H31.2A1.8 1.8 0 0 0 33 646.4L34.5 631.2"/>
</g>
<rect x="8" y="359.0" width="38" height="1.2" fill="#38383f"/>
<rect x="8" y="447.9" width="38" height="1.2" fill="#38383f"/>
<rect x="8" y="611.9" width="38" height="1.2" fill="#38383f"/>
<rect x="313.29999999999995" y="17.6" width="1.2" height="15" fill="#3a3a41"/>
<rect x="551.1" y="17.6" width="1.2" height="15" fill="#3a3a41"/>
<path d="M291.4 23.2H298L294.7 27.2Z" fill="#acacb2"/>
<path d="M529.2 22.8H536L532.6 27.2Z" fill="#acacb2"/>
<g stroke="#acacb2" stroke-width="1.3" fill="none" stroke-linecap="round" stroke-linejoin="round">
<path d="M329 18.4V30.9H341.8"/><path d="M331.5 26.5L333.3 24L336.1 26.8L337.9 24.4M339.6 22.6L340.8 21.5" stroke-width="1.1"/><circle cx="338.8" cy="23.5" r="1.1" stroke-width="1"/>
<path d="M353.8 19.3H366.8M353.8 24.3H357.6M353.8 29.2H358.2"/><path d="M359.4 26.9C361.2 23.6 365.6 23.6 367.3 26.9C365.6 30.2 361.2 30.2 359.4 26.9Z" stroke-width="1.2"/><circle cx="363.4" cy="26.9" r="0.7" stroke-width="1"/>
<rect x="380.3" y="20.4" width="4.5" height="8.6" rx="1.6"/><path d="M382.5 18.2V20.4M382.5 29V31.4"/><rect x="386.5" y="21.8" width="4.4" height="6.5" rx="1.6"/><path d="M388.7 19.7V21.8M388.7 28.3V30.8"/>
<path d="M403.2 25L407 18.6H414.2L418 25L414.2 31.4H407Z" stroke-width="1.4"/><circle cx="410.6" cy="25" r="2.4" stroke-width="1.3"/>
<circle cx="573.2" cy="24.8" r="6.9"/><path d="M573.2 21.2V28.4M569.6 24.8H576.8"/>
<path d="M1485.3 22H1486.6L1488 19.6H1492.3L1493.7 22H1495A1.8 1.8 0 0 1 1496.8 23.8V29.4A1.8 1.8 0 0 1 1495 31.2H1485.3A1.8 1.8 0 0 1 1483.5 29.4V23.8A1.8 1.8 0 0 1 1485.3 22Z"/><circle cx="1490.1" cy="26" r="2.9"/>
<rect x="1508.7" y="18.6" width="12.8" height="12.9" rx="2.2"/>
</g>
<path d="M1514.7 21V24.7H1511ZM1515.6 29.2V25.6H1519.2Z" fill="#acacb2"/><path d="M1510.6 20.6L1513 23M1519.7 29.7L1517.3 27.3" stroke="#acacb2" stroke-width="1.2" fill="none"/>
<circle cx="369.9" cy="16.3" r="2.2" fill="#e0454f"/>
<rect x="68.7" y="77.9" width="32.6" height="20.2" rx="3" fill="none" stroke="#34343b" stroke-width="1"/>
<path d="M76 86.8L79.2 89.8L82.4 86.8" stroke="#d0d0d4" stroke-width="1.5" fill="none" stroke-linecap="round" stroke-linejoin="round"/>
<rect x="269" y="934.8" width="1.3" height="23" fill="#44444b"/>
<rect x="1423.4" y="934.8" width="1.3" height="23" fill="#44444b"/>
<g stroke="#ababb1" stroke-width="1.6" fill="none" stroke-linejoin="round"><path d="M285 945V941.2A2.5 2.5 0 0 1 287.5 938.7H300.5A2.5 2.5 0 0 1 303 941.2V951.5A2.5 2.5 0 0 1 300.5 954H294M285 942.5H303M290.5 935.8V939.7M297.7 935.8V939.7M283.8 951H291.6M288.1 947.1L291.8 951L288.1 955"/></g>
<path d="M1495.3 912.3L1499.1 905.4H1506.8L1510.7 912.3L1506.8 919H1499.1Z" stroke="#c2c2c6" stroke-width="1.3" fill="none" stroke-linejoin="round"/><circle cx="1503" cy="912.3" r="2.3" stroke="#c2c2c6" stroke-width="1.3" fill="none"/>
<circle cx="88.3" cy="867.9" r="17.2" fill="#19191d" stroke="#4a4a50" stroke-width="1.1"/>
<path d="M77 863.1H86.8V874.1H82.5V867.4H77Z" fill="#fff"/><circle cx="89.9" cy="865" r="1.8" fill="#fff"/><path d="M94.8 863.1H99.9L95.7 874.1H90.4Z" fill="#fff"/>
<rect x="48" y="877" width="9.6" height="28.7" rx="4.8" fill="#b0b3be"/>
<path d="M54.2 887.9L51.3 891.4L54.2 894.8" stroke="#2c2c33" stroke-width="1.3" fill="none" stroke-linecap="round" stroke-linejoin="round"/>
</svg>
<svg id="labels" width="1536" height="964" viewBox="0 0 1536 964">
<path d="M1470.3 308.2h52.6a2 2 0 0 1 2 2v12.5h-54.6z" fill="#f2b544"/>
<path d="M1470.3 322.8h54.6v12.4a2 2 0 0 1-2 2h-52.6z" fill="#55b8d5"/>
<text x="21.5" y="30.2" font-size="13" fill="#bebec3" textLength="17.5" lengthAdjust="spacingAndGlyphs" stroke="#bebec3" stroke-width="0.3">1m</text>
<text x="56.7" y="30.2" font-size="13" fill="#bebec3" textLength="17.5" lengthAdjust="spacingAndGlyphs" stroke="#bebec3" stroke-width="0.3">5m</text>
<text x="91.7" y="30.2" font-size="13" fill="#bebec3" textLength="25" lengthAdjust="spacingAndGlyphs" stroke="#bebec3" stroke-width="0.3">15m</text>
<text x="134.4" y="30.2" font-size="13" fill="#bebec3" textLength="13.9" lengthAdjust="spacingAndGlyphs" stroke="#bebec3" stroke-width="0.3">1h</text>
<text x="165.6" y="30.2" font-size="13" fill="#bebec3" textLength="13.6" lengthAdjust="spacingAndGlyphs" stroke="#bebec3" stroke-width="0.3">4h</text>
<text x="196.9" y="30.2" font-size="13" fill="#bebec3" textLength="13.9" lengthAdjust="spacingAndGlyphs" stroke="#bebec3" stroke-width="0.3">1d</text>
<text x="228.5" y="30.2" font-size="13" fill="#e8a33b" textLength="16.7" lengthAdjust="spacingAndGlyphs" stroke="#e8a33b" stroke-width="0.3">1w</text>
<text x="262.5" y="30.2" font-size="13" fill="#bebec3" textLength="16.7" lengthAdjust="spacingAndGlyphs" stroke="#bebec3" stroke-width="0.3">1M</text>
<text x="427.7" y="30" font-size="13" fill="#bebec3" textLength="96.3" lengthAdjust="spacingAndGlyphs" stroke="#bebec3" stroke-width="0.3">Last Traded Price</text>
<text x="68.2" y="68.4" font-size="13.6" fill="#94949a" textLength="217.3" lengthAdjust="spacingAndGlyphs">DOGEUSDT Perpetual · 1W · Bybit</text>
<text x="295.2" y="68.4" font-size="13.6" fill="#94949a" textLength="9.7" lengthAdjust="spacingAndGlyphs">O</text>
<text x="307" y="68.4" font-size="13.6" fill="#4ba5c0" textLength="52.7" lengthAdjust="spacingAndGlyphs">0.20705</text>
<text x="367.9" y="68.4" font-size="13.6" fill="#94949a" textLength="8.8" lengthAdjust="spacingAndGlyphs">H</text>
<text x="379" y="68.4" font-size="13.6" fill="#4ba5c0" textLength="53.4" lengthAdjust="spacingAndGlyphs">0.21823</text>
<text x="440" y="68.4" font-size="13.6" fill="#94949a" textLength="7" lengthAdjust="spacingAndGlyphs">L</text>
<text x="449.1" y="68.4" font-size="13.6" fill="#4ba5c0" textLength="52.7" lengthAdjust="spacingAndGlyphs">0.17537</text>
<text x="509.4" y="68.4" font-size="13.6" fill="#94949a" textLength="9.4" lengthAdjust="spacingAndGlyphs">C</text>
<text x="520.8" y="68.4" font-size="13.6" fill="#4ba5c0" textLength="52.8" lengthAdjust="spacingAndGlyphs">0.18179</text>
<text x="581.8" y="68.4" font-size="13.6" fill="#4ba5c0" textLength="61.5" lengthAdjust="spacingAndGlyphs">−0.02526</text>
<text x="648.6" y="68.4" font-size="13.6" fill="#4ba5c0" textLength="67.4" lengthAdjust="spacingAndGlyphs">(−12.20%)</text>
<text x="89.6" y="93.8" font-size="13.6" fill="#d0d0d4" textLength="7.4" lengthAdjust="spacingAndGlyphs">2</text>
<text x="1476.2" y="74.0" font-size="11.4" fill="#9a9aa0" textLength="43" lengthAdjust="spacingAndGlyphs">0.50000</text>
<text x="1476.2" y="106.8" font-size="11.4" fill="#9a9aa0" textLength="43" lengthAdjust="spacingAndGlyphs">0.44000</text>
<text x="1476.2" y="144.7" font-size="11.4" fill="#9a9aa0" textLength="43" lengthAdjust="spacingAndGlyphs">0.38000</text>
<text x="1476.2" y="173.5" font-size="11.4" fill="#9a9aa0" textLength="43" lengthAdjust="spacingAndGlyphs">0.34000</text>
<text x="1476.2" y="205.9" font-size="11.4" fill="#9a9aa0" textLength="43" lengthAdjust="spacingAndGlyphs">0.30000</text>
<text x="1476.2" y="242.2" font-size="11.4" fill="#9a9aa0" textLength="43" lengthAdjust="spacingAndGlyphs">0.26000</text>
<text x="1476.2" y="273.9" font-size="11.4" fill="#9a9aa0" textLength="43" lengthAdjust="spacingAndGlyphs">0.23000</text>
<text x="1476.2" y="309.4" font-size="11.4" fill="#9a9aa0" textLength="43" lengthAdjust="spacingAndGlyphs">0.20000</text>
<text x="1476.2" y="366.8" font-size="11.4" fill="#9a9aa0" textLength="43" lengthAdjust="spacingAndGlyphs">0.16000</text>
<text x="1476.2" y="401.5" font-size="11.4" fill="#9a9aa0" textLength="43" lengthAdjust="spacingAndGlyphs">0.14000</text>
<text x="1476.2" y="430.9" font-size="11.4" fill="#9a9aa0" textLength="43" lengthAdjust="spacingAndGlyphs">0.12500</text>
<text x="1476.2" y="463.7" font-size="11.4" fill="#9a9aa0" textLength="43" lengthAdjust="spacingAndGlyphs">0.11000</text>
<text x="1476.2" y="501.3" font-size="11.4" fill="#9a9aa0" textLength="43" lengthAdjust="spacingAndGlyphs">0.09500</text>
<text x="1476.2" y="530.2" font-size="11.4" fill="#9a9aa0" textLength="43" lengthAdjust="spacingAndGlyphs">0.08500</text>
<text x="1476.2" y="562.0" font-size="11.4" fill="#9a9aa0" textLength="43" lengthAdjust="spacingAndGlyphs">0.07500</text>
<text x="1476.2" y="591.1" font-size="11.4" fill="#9a9aa0" textLength="43" lengthAdjust="spacingAndGlyphs">0.06700</text>
<text x="1476.2" y="619.5" font-size="11.4" fill="#9a9aa0" textLength="43" lengthAdjust="spacingAndGlyphs">0.06000</text>
<text x="1476.2" y="646.6" font-size="11.4" fill="#9a9aa0" textLength="43" lengthAdjust="spacingAndGlyphs">0.05400</text>
<text x="1476.2" y="674.5" font-size="11.4" fill="#9a9aa0" textLength="43" lengthAdjust="spacingAndGlyphs">0.04850</text>
<text x="1476.6" y="701.2" font-size="11.4" fill="#9a9aa0" textLength="20.8" lengthAdjust="spacingAndGlyphs">75 B</text>
<text x="1476.6" y="729.7" font-size="11.4" fill="#9a9aa0" textLength="20.8" lengthAdjust="spacingAndGlyphs">50 B</text>
<text x="1476.6" y="757.4" font-size="11.4" fill="#9a9aa0" textLength="20.8" lengthAdjust="spacingAndGlyphs">25 B</text>
<text x="1476.6" y="807.2" font-size="11.4" fill="#9a9aa0" textLength="28.7" lengthAdjust="spacingAndGlyphs">80.00</text>
<text x="1476.6" y="842.9" font-size="11.4" fill="#9a9aa0" textLength="28.7" lengthAdjust="spacingAndGlyphs">60.00</text>
<text x="1476.6" y="878.2" font-size="11.4" fill="#9a9aa0" textLength="28.7" lengthAdjust="spacingAndGlyphs">40.00</text>
<text x="71" y="915.8" font-size="10.7" fill="#9a9aa0" text-anchor="middle">Jun</text>
<text x="149.9" y="915.8" font-size="10.7" fill="#9a9aa0" text-anchor="middle">Aug</text>
<text x="228.7" y="915.8" font-size="10.7" fill="#9a9aa0" text-anchor="middle">9</text>
<text x="334" y="915.8" font-size="10.7" fill="#acacb1" textLength="27.5" lengthAdjust="spacingAndGlyphs" font-weight="bold" text-anchor="middle">2024</text>
<text x="413" y="915.8" font-size="10.7" fill="#9a9aa0" text-anchor="middle">Mar</text>
<text x="491.5" y="915.8" font-size="10.7" fill="#9a9aa0" text-anchor="middle">May</text>
<text x="604.5" y="915.8" font-size="10.7" fill="#9a9aa0" text-anchor="middle">Aug</text>
<text x="683.5" y="915.8" font-size="10.7" fill="#9a9aa0" text-anchor="middle">Oct</text>
<text x="798" y="915.8" font-size="10.7" fill="#acacb1" textLength="27.5" lengthAdjust="spacingAndGlyphs" font-weight="bold" text-anchor="middle">2025</text>
<text x="912" y="915.8" font-size="10.7" fill="#9a9aa0" text-anchor="middle">Apr</text>
<text x="1026" y="915.8" font-size="10.7" fill="#9a9aa0" text-anchor="middle">Jul</text>
<text x="1140" y="915.8" font-size="10.7" fill="#9a9aa0" text-anchor="middle">Oct</text>
<text x="1253.5" y="915.8" font-size="10.7" fill="#acacb1" textLength="27.5" lengthAdjust="spacingAndGlyphs" font-weight="bold" text-anchor="middle">2026</text>
<text x="1367.4" y="915.8" font-size="10.7" fill="#9a9aa0" text-anchor="middle">Apr</text>
<text x="74.9" y="952.1" font-size="14.9" fill="#bebec3" textLength="17.2" lengthAdjust="spacingAndGlyphs" stroke="#bebec3" stroke-width="0.3">1D</text>
<text x="106.4" y="952.1" font-size="14.9" fill="#bebec3" textLength="17.9" lengthAdjust="spacingAndGlyphs" stroke="#bebec3" stroke-width="0.3">5D</text>
<text x="139" y="952.1" font-size="14.9" fill="#bebec3" textLength="19.5" lengthAdjust="spacingAndGlyphs" stroke="#bebec3" stroke-width="0.3">1M</text>
<text x="172.5" y="952.1" font-size="14.9" fill="#bebec3" textLength="20.2" lengthAdjust="spacingAndGlyphs" stroke="#bebec3" stroke-width="0.3">3M</text>
<text x="206" y="952.1" font-size="14.9" fill="#bebec3" textLength="20.9" lengthAdjust="spacingAndGlyphs" stroke="#bebec3" stroke-width="0.3">6M</text>
<text x="240.9" y="952.1" font-size="14.9" fill="#bebec3" textLength="17.2" lengthAdjust="spacingAndGlyphs" stroke="#bebec3" stroke-width="0.3">1Y</text>
<text x="1300.8" y="951.4" font-size="14.5" fill="#bebec3" textLength="112" lengthAdjust="spacingAndGlyphs" stroke="#bebec3" stroke-width="0.3">18:13:49 UTC+3</text>
<text x="1436.2" y="951.6" font-size="14.9" fill="#bebec3" textLength="12.8" lengthAdjust="spacingAndGlyphs" stroke="#bebec3" stroke-width="0.3">%</text>
<text x="1462.3" y="951.6" font-size="14.9" fill="#e8a33b" textLength="21" lengthAdjust="spacingAndGlyphs" stroke="#e8a33b" stroke-width="0.4">log</text>
<text x="1495.5" y="951.6" font-size="14.9" fill="#e8a33b" textLength="29.6" lengthAdjust="spacingAndGlyphs" stroke="#e8a33b" stroke-width="0.4">auto</text>
<text x="1476.9" y="319.6" font-size="11.4" fill="#2a2008" textLength="42.2" lengthAdjust="spacingAndGlyphs">0.18183</text>
<text x="1476.9" y="334.2" font-size="11.4" fill="#0c2a33" textLength="42.2" lengthAdjust="spacingAndGlyphs">0.18179</text>
</svg>
</body></html>
